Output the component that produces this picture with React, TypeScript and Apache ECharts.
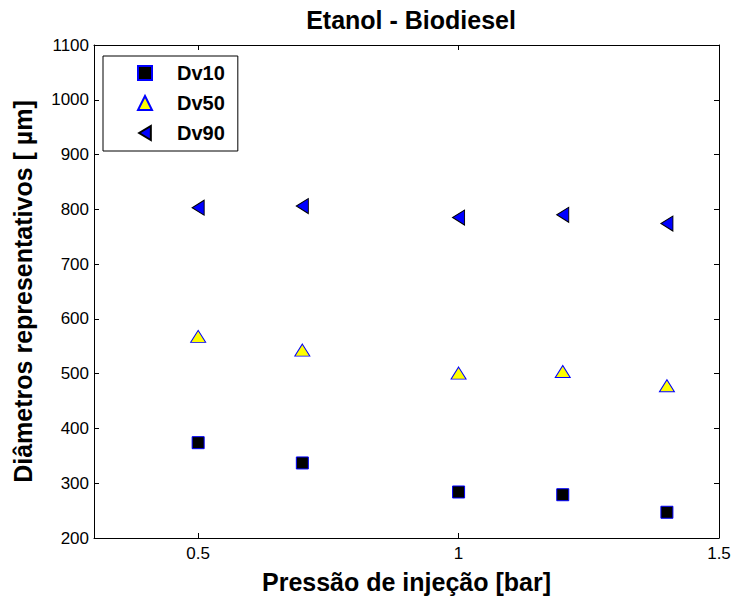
import React, { useEffect, useRef } from "react";
import * as echarts from "echarts";

const pressures = [0.5, 0.7, 1.0, 1.2, 1.4];
const dv10 = [374, 337, 284, 279, 247];
const dv50 = [568, 543, 501, 504, 478];
const dv90 = [803, 806, 785, 790, 774];
const xTicks = [0.5, 1, 1.5];

const FONT = "'Liberation Sans', Arial, sans-serif";
const LEFT_TRI = "path://M10,0 L10,12 L0,6 Z";

export default function App() {
  const ref = useRef<HTMLDivElement>(null);
  useEffect(() => {
    if (!ref.current) return;
    const chart = echarts.init(ref.current, null, { renderer: "svg" });
    const pts = (ys: number[]) => pressures.map((x, i) => [x, ys[i]]);
    const axisLine = { show: true, lineStyle: { color: "#000", width: 1 } };
    chart.setOption({
      animation: false,
      backgroundColor: "#fff",
      textStyle: { fontFamily: FONT },
      title: {
        text: "Etanol - Biodiesel",
        left: 406,
        textAlign: "center",
        top: 2,
        textStyle: { fontFamily: FONT, fontSize: 25, fontWeight: "bold", color: "#000" },
      },
      grid: { left: 94, right: 17, top: 45, bottom: 61, containLabel: false },
      legend: {
        orient: "vertical",
        left: 103,
        top: 56,
        padding: [6, 13, 7, 34],
        itemWidth: 14,
        itemHeight: 14,
        itemGap: 8,
        borderColor: "#000",
        borderWidth: 1,
        backgroundColor: "#fff",
        textStyle: {
          fontFamily: FONT,
          fontSize: 20,
          lineHeight: 22,
          fontWeight: "bold",
          color: "#000",
          padding: [0, 0, 0, 20],
        },
        data: ["Dv10", "Dv50", "Dv90"],
      },
      xAxis: [
        {
          type: "value",
          min: 0.3,
          max: 1.5,
          name: "Pressão de injeção [bar]",
          nameLocation: "middle",
          nameGap: 31,
          nameTextStyle: { fontFamily: FONT, fontSize: 25, fontWeight: "bold", color: "#000" },
          axisLine,
          axisTick: { show: true, inside: true, length: 5, customValues: xTicks, lineStyle: { color: "#000" } },
          axisLabel: {
            customValues: xTicks,
            fontFamily: FONT,
            fontSize: 17,
            color: "#000",
            margin: 7,
            formatter: (v: number) => String(v),
          },
          splitLine: { show: false },
        },
        {
          type: "value",
          position: "top",
          min: 0.3,
          max: 1.5,
          axisLine,
          axisTick: { show: true, inside: true, length: 5, customValues: xTicks, lineStyle: { color: "#000" } },
          axisLabel: { show: false },
          splitLine: { show: false },
        },
      ],
      yAxis: [
        {
          type: "value",
          min: 200,
          max: 1100,
          interval: 100,
          name: "Diâmetros representativos [ µm]",
          nameLocation: "middle",
          nameGap: 59,
          nameTextStyle: { fontFamily: FONT, fontSize: 25, fontWeight: "bold", color: "#000" },
          axisLine,
          axisTick: { show: true, inside: true, length: 5, lineStyle: { color: "#000" } },
          axisLabel: {
            fontFamily: FONT,
            fontSize: 17,
            color: "#000",
            margin: 5,
            formatter: (v: number) => String(v),
          },
          splitLine: { show: false },
        },
        {
          type: "value",
          position: "right",
          min: 200,
          max: 1100,
          interval: 100,
          axisLine,
          axisTick: { show: true, inside: true, length: 5, lineStyle: { color: "#000" } },
          axisLabel: { show: false },
          splitLine: { show: false },
        },
      ],
      series: [
        {
          name: "Dv10",
          type: "scatter",
          symbol: "rect",
          symbolSize: 12,
          itemStyle: { color: "#000", borderColor: "#0000ff", borderWidth: 1, opacity: 1 },
          data: pts(dv10),
        },
        {
          name: "Dv50",
          type: "scatter",
          symbol: "triangle",
          symbolSize: [15, 12],
          itemStyle: { color: "#ffff00", borderColor: "#0000ff", borderWidth: 1, opacity: 1 },
          data: pts(dv50),
        },
        {
          name: "Dv90",
          type: "scatter",
          symbol: LEFT_TRI,
          symbolSize: [12, 15],
          itemStyle: { color: "#0000ff", borderColor: "#000", borderWidth: 1, opacity: 1 },
          data: pts(dv90),
        },
      ],
    });
    return () => chart.dispose();
  }, []);
  return <div ref={ref} style={{ width: 736, height: 599, position: "absolute", left: 0, top: 0 }} />;
}
